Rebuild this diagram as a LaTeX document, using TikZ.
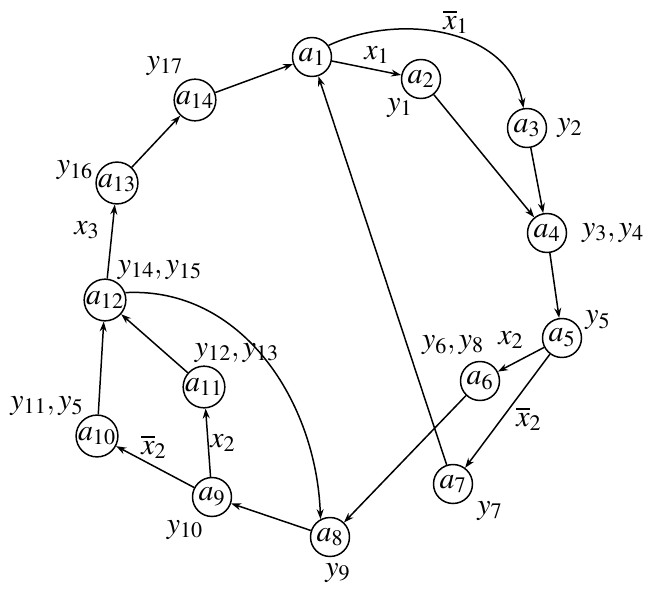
\documentclass[tikz,border=0pt]{standalone}
\usepackage{mathptmx}
\usetikzlibrary{arrows.meta}

\begin{document}
\begin{tikzpicture}[x=0.02cm, y=-0.02cm, line width=0.85pt,
                    st/.style={circle, draw, minimum size=0.78cm, inner sep=0pt},
                    lab/.style={inner sep=0pt},
                    >={Stealth[length=2mm, width=1.4mm]},
                    every node/.style={font=\fontsize{17}{20}\selectfont}]
                    \useasboundingbox (0,0) rectangle (653,595);

                    % states
                    \node[st] (a1) at (312,57) {$a_1$};
                    \node[st] (a2) at (421,79) {$a_2$};
                    \node[st] (a3) at (527,128) {$a_3$};
                    \node[st] (a4) at (547,233) {$a_4$};
                    \node[st] (a5) at (562,338) {$a_5$};
                    \node[st] (a6) at (480,381) {$a_6$};
                    \node[st] (a7) at (453,484) {$a_7$};
                    \node[st] (a8) at (330,537) {$a_8$};
                    \node[st] (a9) at (212,497) {$a_9$};
                    \node[st] (a10) at (97,436) {$a_{10}$};
                    \node[st] (a11) at (204,387) {$a_{11}$};
                    \node[st] (a12) at (105,300) {$a_{12}$};
                    \node[st] (a13) at (117,183) {$a_{13}$};
                    \node[st] (a14) at (195,100) {$a_{14}$};

                    % outputs
                    \node[lab] (o1) at (400,108) {$y_1$};
                    \node[lab] (o2) at (570,128) {$y_2$};
                    \node[lab] (o3) at (613,233) {$y_3, y_4$};
                    \node[lab] (o5) at (598,320) {$y_5$};
                    \node[lab] (o6) at (453,345) {$y_6, y_8$};
                    \node[lab] (o7) at (490,511) {$y_7$};
                    \node[lab] (o9) at (338,573) {$y_9$};
                    \node[lab] (o10) at (185,530) {$y_{10}$};
                    \node[lab] (o11) at (47,406) {$y_{11}, y_5$};
                    \node[lab] (o12) at (237,353) {$y_{12}, y_{13}$};
                    \node[lab] (o14) at (160,270) {$y_{14}, y_{15}$};
                    \node[lab] (o16) at (75,170) {$y_{16}$};
                    \node[lab] (o17) at (165,66) {$y_{17}$};

                    % conditions
                    \node[lab] (c1) at (377,55) {$x_1$};
                    \node[lab] (c2) at (456,22) {$\overline{x}_1$};
                    \node[lab] (c3) at (511,340) {$x_2$};
                    \node[lab] (c4) at (529,419) {$\overline{x}_2$};
                    \node[lab] (c5) at (223,443) {$x_2$};
                    \node[lab] (c6) at (154,447) {$\overline{x}_2$};
                    \node[lab] (c7) at (87,230) {$x_3$};

                    \draw[->] (a1) -- (a2);
                    \draw[->] (a1.35) to[out=25, in=100] (a3.100);
                    \draw[->] (a2) -- (a4);
                    \draw[->] (a3) -- (a4);
                    \draw[->] (a4) -- (a5);
                    \draw[->] (a5) -- (a6);
                    \draw[->] (a5) -- (a7);
                    \draw[->] (a6) -- (a8);
                    \draw[->] (a7) -- (a1);
                    \draw[->] (a8) -- (a9);
                    \draw[->] (a9) -- (a10);
                    \draw[->] (a9) -- (a11);
                    \draw[->] (a10) -- (a12);
                    \draw[->] (a11) -- (a12);
                    \draw[->] (a12.20) to[out=3, in=92] (a8.118);
                    \draw[->] (a12) -- (a13);
                    \draw[->] (a13) -- (a14);
                    \draw[->] (a14) -- (a1);
                \end{tikzpicture}
\end{document}
